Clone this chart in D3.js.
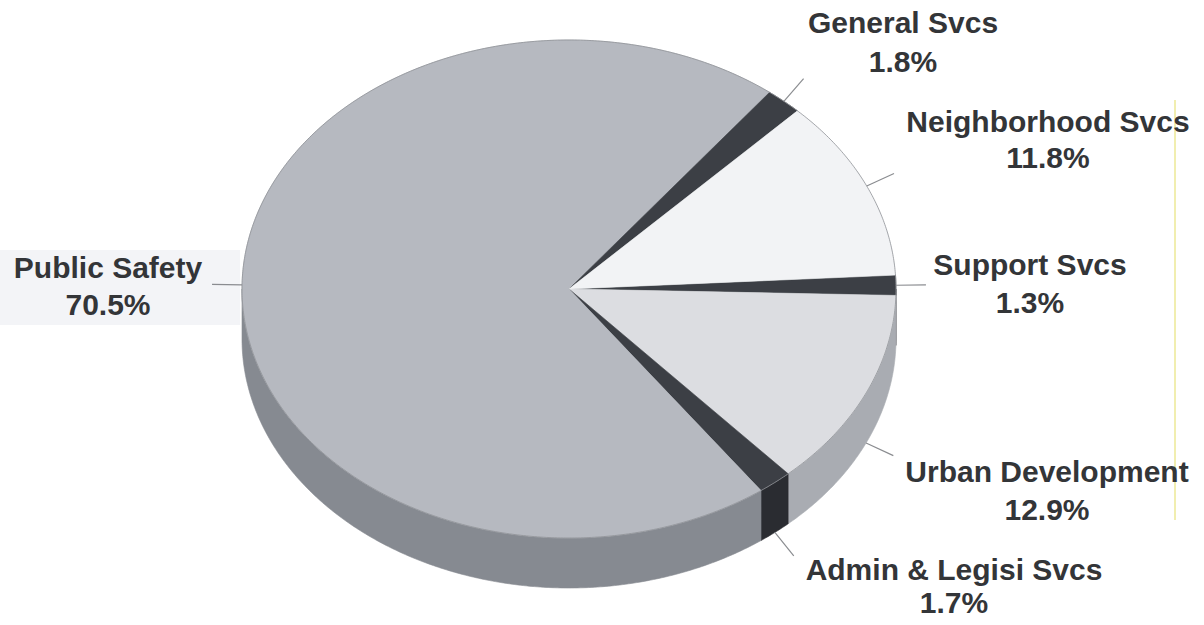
<!DOCTYPE html>
<html>
<head>
<meta charset="utf-8">
<script src="https://cdn.jsdelivr.net/npm/d3@7"></script>
<style>
  html, body { margin: 0; padding: 0; background: #ffffff; }
  svg { display: block; }
  .lbl { font-family: "Liberation Sans", Arial, sans-serif; font-weight: bold; font-size: 30px; fill: #333538; }
</style>
</head>
<body>
<svg id="chart" width="1204" height="625"></svg>
<script>
// Budget shares by service area (percent), in drawing order clockwise from the right
const categories = ["Support Svcs", "Urban Development", "Admin & Legisi Svcs", "Public Safety", "General Svcs", "Neighborhood Svcs"];
const shares     = [1.3, 12.9, 1.7, 70.5, 1.8, 11.8];
const shareLabels = ["1.3%", "12.9%", "1.7%", "70.5%", "1.8%", "11.8%"];

// Face and wall shades for each slice
const topColors  = ["#3c3f45", "#dcdde1", "#3c3f45", "#b6b9c0", "#3c3f45", "#f2f3f5"];
const sideColors = ["#2c2e33", "#a9acb2", "#2a2c31", "#868a91", "#2c2e33", "#c8c9cd"];

// Label placement (centre x, first baseline y, line gap)
const labelPos = [[1030, 275, 38], [1047, 482, 38], [954, 580, 33], [108, 278, 37], [903, 33, 39], [1048, 132, 36]];

const svg = d3.select("#chart");
const cx = 569, cy = 289, rx = 327, ry = 249, depth = 50;
const deg = Math.PI / 180;

// faint scan background block and the rule at the right
svg.append("rect").attr("x", 0).attr("y", 250).attr("width", 240).attr("height", 75).attr("fill", "#f3f4f7");
svg.append("line").attr("x1", 1175).attr("x2", 1175).attr("y1", 100).attr("y2", 520)
  .attr("stroke", "#f1eeb0").attr("stroke-width", 2);

const pie = d3.pie().sort(null).value(d => d)
  .startAngle(86.8 * deg).endAngle(86.8 * deg + 2 * Math.PI);
const arcs = pie(shares);

// d3 angle: 0 at 12 o'clock, clockwise
const ex = a => cx + rx * Math.sin(a);
const ey = a => cy - ry * Math.cos(a);

function arcPoints(a0, a1, dy) {
  const n = Math.max(2, Math.ceil((a1 - a0) / (0.5 * deg)));
  return d3.range(n + 1).map(i => {
    const a = a0 + (a1 - a0) * i / n;
    return [ex(a), ey(a) + dy];
  });
}

const line = d3.line();

// front walls (visible between 3 o'clock and 9 o'clock)
const gSide = svg.append("g");
arcs.forEach((d, i) => {
  const s = Math.max(d.startAngle, Math.PI / 2);
  const e = Math.min(d.endAngle, 3 * Math.PI / 2);
  if (e <= s) return;
  const pts = arcPoints(s, e, 0).concat(arcPoints(s, e, depth).reverse());
  gSide.append("path").attr("d", line(pts) + "Z")
    .attr("fill", sideColors[i]).attr("stroke", sideColors[i]).attr("stroke-width", 0.6);
});

// top faces
const gTop = svg.append("g");
arcs.forEach((d, i) => {
  const pts = [[cx, cy]].concat(arcPoints(d.startAngle, d.endAngle, 0));
  gTop.append("path").attr("d", line(pts) + "Z")
    .attr("fill", topColors[i]).attr("stroke", topColors[i]).attr("stroke-width", 0.6);
});
// rim outline
gTop.append("path").attr("d", line(arcPoints(0, 2 * Math.PI, 0)) + "Z")
  .attr("fill", "none").attr("stroke", "#8f9297").attr("stroke-width", 0.8);

// leader lines and labels
const gLbl = svg.append("g");
arcs.forEach((d, i) => {
  const a = (d.startAngle + d.endAngle) / 2;
  const s = Math.sin(a), c = -Math.cos(a);
  const off = (c > 0.2) ? depth : 0;
  const L = 30;
  gLbl.append("line")
    .attr("x1", ex(a)).attr("y1", ey(a) + off)
    .attr("x2", cx + (rx + L) * s).attr("y2", cy + (ry + L) * c + off)
    .attr("stroke", "#8a8c90").attr("stroke-width", 1.2);
  const [lx, ly, gap] = labelPos[i];
  gLbl.append("text").attr("class", "lbl").attr("x", lx).attr("y", ly)
    .attr("text-anchor", "middle").text(categories[i]);
  gLbl.append("text").attr("class", "lbl").attr("x", lx).attr("y", ly + gap)
    .attr("text-anchor", "middle").text(shareLabels[i]);
});
</script>
</body>
</html>
